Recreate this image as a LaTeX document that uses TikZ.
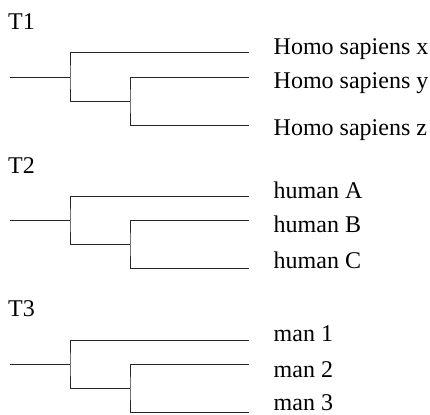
\documentclass[tikz,border=0pt]{standalone}
\usepackage{fontspec}
\setmainfont{Liberation Serif}
\begin{document}
\begin{tikzpicture}[x=1bp,y=-1bp,
  branch/.style={draw=black!85,line width=1bp},
  lab/.style={anchor=base west,inner sep=0pt,font=\fontsize{24bp}{28bp}\selectfont}]
\useasboundingbox (0,0) rectangle (430,415);
% ---------- T1
\node[lab] (T1) at (8,29) {T1};
\coordinate (a1) at (10,77);
\coordinate (n1) at (70,77);
\coordinate (m1) at (130,101);
\coordinate (x1) at (249,52);
\coordinate (y1) at (249,77);
\coordinate (z1) at (249,125);
\draw[branch] (a1) -- (n1);
\draw[branch] (x1) -| (n1) |- (m1);
\draw[branch] (y1) -| (m1) |- (z1);
\node[lab] (lx1) at (273.5,54.5) {Homo sapiens x};
\node[lab] (ly1) at (273.5,88.5) {Homo sapiens y};
\node[lab] (lz1) at (273.5,135) {Homo sapiens z};
% ---------- T2
\node[lab] (T2) at (8,173.3) {T2};
\coordinate (a2) at (10,220.3);
\coordinate (n2) at (70,220.3);
\coordinate (m2) at (130,244.3);
\coordinate (x2) at (249,196.7);
\coordinate (y2) at (249,220.3);
\coordinate (z2) at (249,268.3);
\draw[branch] (a2) -- (n2);
\draw[branch] (x2) -| (n2) |- (m2);
\draw[branch] (y2) -| (m2) |- (z2);
\node[lab] (lx2) at (273.5,198.3) {human A};
\node[lab] (ly2) at (273.5,232.5) {human B};
\node[lab] (lz2) at (273.5,268.5) {human C};
% ---------- T3
\node[lab] (T3) at (8,316.7) {T3};
\coordinate (a3) at (10,364.7);
\coordinate (n3) at (70,364.7);
\coordinate (m3) at (130,388.3);
\coordinate (x3) at (249,340.7);
\coordinate (y3) at (249,364.7);
\coordinate (z3) at (249,412.3);
\draw[branch] (a3) -- (n3);
\draw[branch] (x3) -| (n3) |- (m3);
\draw[branch] (y3) -| (m3) |- (z3);
\node[lab] (lx3) at (273.5,341.5) {man 1};
\node[lab] (ly3) at (273.5,377) {man 2};
\node[lab] (lz3) at (273.5,410.3) {man 3};
\end{tikzpicture}
\end{document}
